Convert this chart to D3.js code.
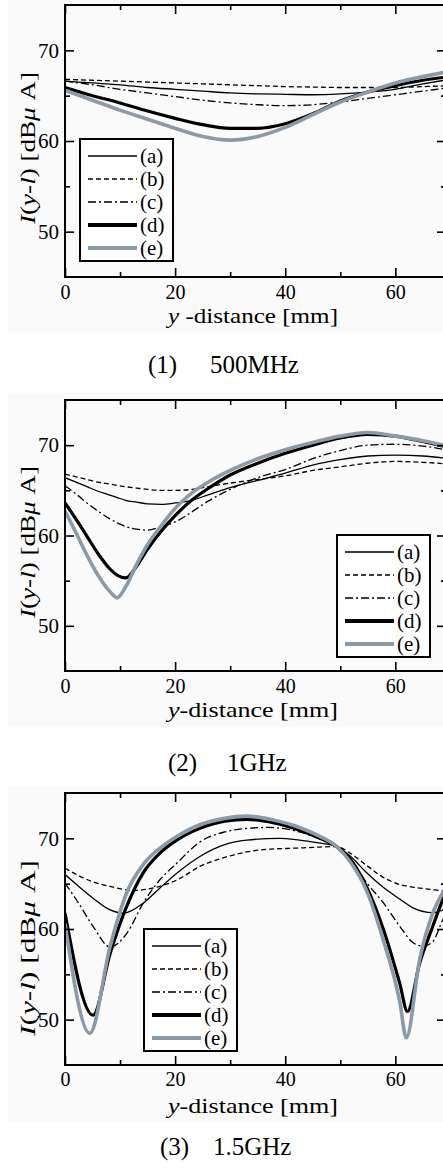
<!DOCTYPE html>
<html>
<head>
<meta charset="utf-8">
<script src="https://cdn.jsdelivr.net/npm/d3@7/dist/d3.min.js"></script>
<style>
body { margin: 0; background: #fff; overflow: hidden; }
text { font-family: "Liberation Serif", "Times New Roman", serif; fill: #000; }
</style>
</head>
<body>
<svg id="chart" width="443" height="1169"></svg>
<script>
// legend names and tick labels
var seriesNames = ["(a)", "(b)", "(c)", "(d)", "(e)"];
var xMajor = [0, 20, 40, 60];
var xMinor = [10, 30, 50];
var yMajor = [50, 60, 70];
var yMinor = [55, 65];
var captions = [["(1)", "500MHz"], ["(2)", "1GHz"], ["(3)", "1.5GHz"]];

// (1) 500MHz
var x500 = [0, 5, 10, 15, 20, 25, 30, 35, 40, 45, 50, 55, 60, 65, 70];
var a500 = [66.6, 66.4, 66.2, 65.9, 65.7, 65.5, 65.3, 65.2, 65.15, 65.1, 65.2, 65.4, 65.7, 66.3, 66.8];
var b500 = [66.8, 66.7, 66.6, 66.5, 66.4, 66.3, 66.2, 66.1, 66.0, 65.95, 65.9, 65.9, 65.9, 66.0, 66.1];
var c500 = [66.6, 66.2, 65.7, 65.3, 64.9, 64.5, 64.2, 64.0, 63.9, 64.0, 64.3, 64.7, 65.1, 65.5, 65.9];
var d500 = [65.9, 65.0, 64.2, 63.3, 62.5, 61.8, 61.4, 61.4, 61.9, 63.0, 64.4, 65.4, 66.1, 66.7, 67.1];
var e500 = [65.6, 64.5, 63.4, 62.4, 61.4, 60.5, 60.1, 60.5, 61.5, 62.9, 64.3, 65.4, 66.4, 67.1, 67.7];

// (2) 1GHz
var x1g = [0, 2, 4, 6, 8, 9.5, 11, 13, 15, 17.5, 20, 23, 26, 30, 35, 40, 45, 50, 55, 60, 65, 70];
var a1g = [66.4, 65.9, 65.4, 64.9, 64.5, 64.2, 63.9, 63.7, 63.5, 63.45, 63.6, 63.9, 64.5, 65.3, 66.1, 66.9, 67.8, 68.4, 68.8, 68.9, 68.8, 68.5];
var b1g = [66.8, 66.5, 66.2, 65.9, 65.7, 65.55, 65.4, 65.25, 65.1, 65.0, 65.0, 65.1, 65.4, 65.8, 66.2, 66.6, 67.2, 67.6, 68.0, 68.2, 68.1, 67.9];
var c1g = [65.5, 64.6, 63.6, 62.7, 61.9, 61.4, 61.0, 60.7, 60.6, 61.0, 61.5, 62.6, 63.8, 65.1, 66.4, 67.3, 68.5, 69.4, 70.0, 70.1, 69.9, 69.4];
var d1g = [63.6, 61.8, 59.9, 58.0, 56.4, 55.6, 55.3, 56.6, 58.5, 60.5, 62.2, 63.9, 65.2, 66.7, 68.0, 69.1, 70.0, 70.8, 71.2, 71.0, 70.4, 69.7];
var e1g = [62.7, 60.3, 57.8, 55.6, 53.9, 53.1, 54.3, 56.8, 59.0, 61.1, 63.0, 64.7, 65.9, 67.2, 68.5, 69.5, 70.3, 71.0, 71.4, 71.0, 70.5, 69.8];

// (3) 1.5GHz, [y-distance, level] pairs (dips sit at different places)
var a15 = [[0, 66.0], [2.1, 64.9], [5.1, 63.4], [8.2, 62.1], [10.6, 61.75], [14.2, 62.85], [17.2, 64.5], [20.3, 66.15], [24.5, 68.0], [29, 69.3], [33, 69.8], [39, 70.0], [42.6, 69.8], [46, 69.5], [49.3, 69.1], [51.7, 68.1], [54.8, 66.2], [57.8, 64.6], [60.8, 63.3], [63.3, 62.3], [66.8, 61.8], [68.6, 62.1], [70, 62.8]];
var b15 = [[0, 66.7], [5.1, 65.2], [8.2, 64.7], [12.4, 64.25], [17.2, 64.7], [20.3, 65.4], [24.5, 66.9], [29, 67.9], [33, 68.5], [37, 68.8], [41, 68.9], [45, 69.0], [49.3, 69.1], [51.7, 68.4], [54.8, 67.0], [57.8, 65.7], [60.8, 64.9], [63.3, 64.6], [66, 64.4], [68.6, 64.2], [70, 64.1]];
var c15 = [[0, 65.05], [2.1, 63.2], [5.1, 60.3], [8.2, 58.0], [11.2, 59.5], [14.2, 62.85], [17.2, 65.4], [20.3, 67.25], [24.5, 69.6], [29, 70.7], [33, 71.1], [37, 71.2], [42.6, 70.7], [46, 70.0], [49.3, 69.1], [51.7, 67.8], [54.8, 65.1], [57.8, 62.9], [60.8, 60.3], [63, 58.6], [65, 58.1], [66.8, 58.6], [68.6, 61.0], [70, 62.5]];
var d15 = [[0, 61.75], [5.1, 50.5], [8.2, 57.3], [11.2, 62.5], [14.2, 66.2], [17.2, 68.35], [20.3, 69.8], [24.5, 71.1], [29, 71.9], [33, 72.1], [38, 71.7], [42.6, 70.9], [46, 70.1], [49.3, 69.1], [51.7, 67.8], [54.8, 64.6], [57.8, 60.0], [60.8, 54.0], [62.2, 50.9], [64.4, 56.2], [66.8, 60.3], [68.6, 63.2], [70, 65.0]];
var e15 = [[0, 60.6], [4.5, 48.5], [8.2, 58.1], [11.2, 64.0], [14.2, 67.1], [17.2, 68.9], [20.3, 70.2], [24.5, 71.5], [29, 72.2], [33, 72.45], [38, 72.0], [42.6, 71.2], [46, 70.3], [49.3, 69.1], [51.7, 67.5], [54.8, 64.2], [57.8, 58.8], [60.8, 52.0], [62, 48.0], [64.4, 56.6], [66.8, 61.75], [68.6, 64.0], [70, 65.5]];

function pairs(xs, ys) {
    return xs.map(function(v, i) { return [v, ys[i]]; });
}

// line looks for (a)..(e)
var styles = [
    {w: 1.3, dash: null, color: "#000"},
    {w: 1.3, dash: "5,3", color: "#000"},
    {w: 1.3, dash: "8,3,2,3", color: "#000"},
    {w: 3.2, dash: null, color: "#000"},
    {w: 3.6, dash: null, color: "#8a9aa7"}
];

// panel layout
var panels = [
    {id: 0, top: 5, bottom: 277, tickPad: 8, titleY: 323, xTitle: " -distance [mm]", capY: 373, capX: [148, 210],
     legX: 80, legY: 139, yLabelC: 148, yLabelLen: 152, yLabelFs: 20, bgTop: 0, bgBottom: 333,
     series: [pairs(x500, a500), pairs(x500, b500), pairs(x500, c500), pairs(x500, d500), pairs(x500, e500)]},
    {id: 1, top: 400, bottom: 671, tickPad: 8, titleY: 717, xTitle: "-distance [mm]", capY: 771, capX: [168, 227],
     legX: 337, legY: 535, yLabelC: 542, yLabelLen: 152, yLabelFs: 20, bgTop: 393, bgBottom: 727,
     series: [pairs(x1g, a1g), pairs(x1g, b1g), pairs(x1g, c1g), pairs(x1g, d1g), pairs(x1g, e1g)]},
    {id: 2, top: 793, bottom: 1065, tickPad: 7, titleY: 1113, xTitle: "-distance [mm]", capY: 1155, capX: [160, 213],
     legX: 144, legY: 929, yLabelC: 948, yLabelLen: 176, yLabelFs: 22, bgTop: 786, bgBottom: 1122,
     series: [a15, b15, c15, d15, e15]}
];

function drawPanel(svg, p) {
    var x = d3.scaleLinear().domain([0, 69.2]).range([65, 446]);
    var y = d3.scaleLinear().domain([45, 75]).range([p.bottom, p.top]);
    var g = svg.append("g");

    // faint panel background
    g.append("rect").attr("x", 8).attr("y", p.bgTop).attr("width", 435)
        .attr("height", p.bgBottom - p.bgTop).attr("fill", "#fafafa");

    g.append("clipPath").attr("id", "clip" + p.id)
        .append("rect").attr("x", 65).attr("y", p.top).attr("width", 381).attr("height", p.bottom - p.top);

    var line = d3.line()
        .x(function(d) { return x(d[0]); })
        .y(function(d) { return y(d[1]); })
        .curve(d3.curveMonotoneX);

    g.append("g").attr("clip-path", "url(#clip" + p.id + ")")
        .selectAll("path")
        .data(p.series)
        .enter()
        .append("path")
        .attr("d", line)
        .attr("fill", "none")
        .attr("stroke", function(d, i) { return styles[i].color; })
        .attr("stroke-width", function(d, i) { return styles[i].w; })
        .attr("stroke-dasharray", function(d, i) { return styles[i].dash; })
        .attr("stroke-linejoin", "round");

    // ticks, all pointing inward
    function ax(axis, tx, ty, vals, size, labels) {
        var a = axis.tickValues(vals).tickSize(-size);
        if (!labels) a.tickFormat("");
        var s = g.append("g").attr("transform", "translate(" + tx + "," + ty + ")").call(a);
        s.attr("font-family", null);
        s.select(".domain").remove();
        s.selectAll("line").attr("stroke", "#000").attr("stroke-width", 1.6);
        return s;
    }
    var bx = ax(d3.axisBottom(x).tickPadding(p.tickPad), 0, p.bottom, xMajor, 9, true);
    bx.selectAll("text").attr("font-size", 20);
    ax(d3.axisBottom(x), 0, p.bottom, xMinor, 5, false);
    ax(d3.axisTop(x), 0, p.top, xMajor, 9, false);
    ax(d3.axisTop(x), 0, p.top, xMinor, 5, false);
    var ly = ax(d3.axisLeft(y).tickPadding(6), 65, 0, yMajor, 9, true);
    ly.selectAll("text").attr("font-size", 21);
    ax(d3.axisLeft(y), 65, 0, yMinor, 5, false);
    ax(d3.axisRight(y), 446, 0, yMajor, 9, false);
    ax(d3.axisRight(y), 446, 0, yMinor, 5, false);

    // frame
    g.append("rect").attr("x", 65).attr("y", p.top).attr("width", 381).attr("height", p.bottom - p.top)
        .attr("fill", "none").attr("stroke", "#000").attr("stroke-width", 2);

    // x axis title
    var xt = g.append("text").attr("x", 168).attr("y", p.titleY).attr("font-size", 21)
        .attr("textLength", 170).attr("lengthAdjust", "spacingAndGlyphs");
    xt.append("tspan").attr("font-style", "italic").text("y");
    xt.append("tspan").text(p.xTitle);

    // y axis title
    var yt = g.append("text")
        .attr("transform", "translate(35," + p.yLabelC + ") rotate(-90)")
        .attr("text-anchor", "middle").attr("font-size", p.yLabelFs)
        .attr("textLength", p.yLabelLen).attr("lengthAdjust", "spacingAndGlyphs");
    yt.append("tspan").attr("font-style", "italic").text("I");
    yt.append("tspan").text("(");
    yt.append("tspan").attr("font-style", "italic").text("y");
    yt.append("tspan").text("-");
    yt.append("tspan").attr("font-style", "italic").text("l");
    yt.append("tspan").text(") [dB");
    yt.append("tspan").attr("font-style", "italic").text("\u03bc");
    yt.append("tspan").text(" A]");

    // legend
    var lg = g.append("g").attr("transform", "translate(" + p.legX + "," + p.legY + ")");
    lg.append("rect").attr("width", 93).attr("height", 122)
        .attr("fill", "#fff").attr("stroke", "#000").attr("stroke-width", 2);
    var row = lg.selectAll(".row").data(seriesNames).enter().append("g")
        .attr("transform", function(d, i) { return "translate(0," + (17 + i * 23) + ")"; });
    row.append("line").attr("x1", 8).attr("x2", 57)
        .attr("stroke", function(d, i) { return styles[i].color; })
        .attr("stroke-width", function(d, i) { return styles[i].w + (i > 2 ? 0.6 : 0.3); })
        .attr("stroke-dasharray", function(d, i) { return styles[i].dash; });
    row.append("text").attr("x", 60).attr("y", 7).attr("font-size", 21).text(function(d) { return d; });

    // caption
    var cap = captions[p.id];
    g.append("text").attr("x", p.capX[0]).attr("y", p.capY).attr("font-size", 25).text(cap[0]);
    g.append("text").attr("x", p.capX[1]).attr("y", p.capY).attr("font-size", 25).text(cap[1]);
}

function init() {
    var svg = d3.select("#chart");
    panels.forEach(function(p) { drawPanel(svg, p); });
}
window.onload = init;
</script>
</body>
</html>
